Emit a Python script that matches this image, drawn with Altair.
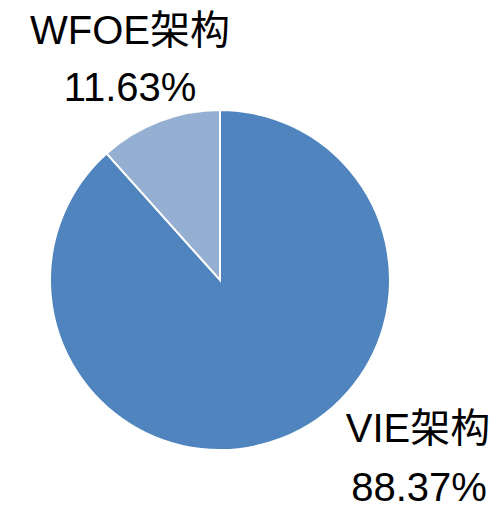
import altair as alt
import pandas as pd

categories = ["VIE架构", "WFOE架构"]
shares = [88.37, 11.63]
pct_labels = ["88.37%", "11.63%"]
colors = ["#4F84BF", "#94AFD2"]

df = pd.DataFrame({"cat": categories, "share": shares, "order": [0, 1]})

W, H = 484, 501
font = "Liberation Sans, Arial, Noto Sans CJK SC"

pie = alt.Chart(df).mark_arc(stroke="white", strokeWidth=2, radius=170).encode(
    theta=alt.Theta("share:Q", stack=True),
    color=alt.Color("cat:N", scale=alt.Scale(domain=categories, range=colors), legend=None),
    order=alt.Order("order:Q"),
    x=alt.value(212),
    y=alt.value(272),
)

def label(text, x, y):
    return alt.Chart(pd.DataFrame({"t": [text]})).mark_text(
        font=font, fontSize=40, color="black", align="center", baseline="alphabetic"
    ).encode(text="t:N", x=alt.value(x), y=alt.value(y))

chart = alt.layer(
    pie,
    label(categories[1], 122, 36),
    label(pct_labels[1], 122, 93),
    label(categories[0], 410, 434),
    label(pct_labels[0], 411, 493),
).properties(width=W, height=H, padding=0, autosize=alt.AutoSizeParams(type="none")).configure_view(stroke=None)

chart.save("out.html", embed_options={"renderer": "svg", "actions": False})
